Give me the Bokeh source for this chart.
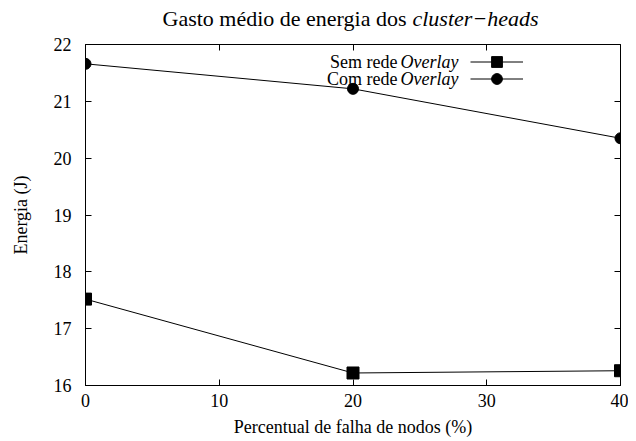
from bokeh.plotting import figure
from bokeh.layouts import column
from bokeh.models import (Range1d, LinearAxis, SingleIntervalTicker, Label,
                          Legend, LegendItem)
from bokeh.embed import file_html
from bokeh.resources import INLINE

# ---- data ----
falha = [0, 20, 40]
sem_overlay = [17.52, 16.22, 16.26]
com_overlay = [21.66, 21.22, 20.35]
x_ticks_interval = 10
y_ticks_interval = 1
titulo_normal = "Gasto médio de energia dos"
titulo_italico = "cluster\u2212heads"
serie_nomes = ["Sem rede", "Com rede"]
serie_italico = "Overlay"

FONT = "Liberation Serif"
W = 628
TITLE_H = 33

# ---- title strip ----
t = figure(width=W, height=TITLE_H, output_backend="svg", toolbar_location=None,
           x_range=Range1d(0, 1), y_range=Range1d(0, 1),
           x_axis_type=None, y_axis_type=None, min_border=0)
t.frame_align = False
t.grid.visible = False
t.outline_line_color = None
t.add_layout(Label(x=162, y=TITLE_H - 17.5, x_units="screen", y_units="screen",
                   text=titulo_normal, text_align="left",
                   text_baseline="middle", text_font=FONT,
                   text_font_size="22px", text_color="black"))
t.add_layout(Label(x=538, y=TITLE_H - 17.5, x_units="screen", y_units="screen",
                   text=titulo_italico, text_align="right",
                   text_baseline="middle", text_font=FONT,
                   text_font_size="22px", text_font_style="italic",
                   text_color="black"))

# ---- main plot ----
p = figure(width=W, height=406, output_backend="svg", toolbar_location=None,
           x_range=Range1d(0, 40), y_range=Range1d(16, 22),
           min_border_left=85, min_border_right=8, min_border_top=11,
           min_border_bottom=54, x_axis_label="Percentual de falha de nodos (%)",
           y_axis_label="Energia (J)")
p.frame_align = False
p.grid.visible = False
p.outline_line_color = "black"
p.outline_line_width = 1

for ax in (p.xaxis[0], p.yaxis[0]):
    ax.major_tick_in = 6
    ax.major_tick_out = 0
    ax.minor_tick_line_color = None
    ax.axis_line_color = "black"
    ax.major_label_text_font = FONT
    ax.major_label_text_font_size = "18px"
    ax.major_label_text_color = "black"
    ax.axis_label_text_font = FONT
    ax.axis_label_text_font_size = "18px"
    ax.axis_label_text_font_style = "normal"
    ax.axis_label_text_color = "black"
p.xaxis[0].ticker = SingleIntervalTicker(interval=x_ticks_interval)
p.yaxis[0].ticker = SingleIntervalTicker(interval=y_ticks_interval)
p.xaxis[0].major_label_standoff = 4
p.xaxis[0].axis_label_standoff = 7
p.yaxis[0].major_label_standoff = 10
p.yaxis[0].axis_label_standoff = 20

# mirror ticks (right / top)
rax = LinearAxis(ticker=SingleIntervalTicker(interval=y_ticks_interval))
tax = LinearAxis(ticker=SingleIntervalTicker(interval=x_ticks_interval))
for ax in (rax, tax):
    ax.major_tick_in = 6
    ax.major_tick_out = 0
    ax.minor_tick_line_color = None
    ax.axis_line_color = None
    ax.major_label_text_color = None
    ax.major_label_text_font_size = "1px"
    ax.major_label_standoff = 0
p.add_layout(rax, "right")
p.add_layout(tax, "above")

# series
l1 = p.line(falha, sem_overlay, line_color="black", line_width=1)
s1 = p.scatter(falha, sem_overlay, marker="square", size=12, color="black")
l2 = p.line(falha, com_overlay, line_color="black", line_width=1)
s2 = p.scatter(falha, com_overlay, marker="circle", size=11, color="black")

def leg(renderers, y):
    p.add_layout(Legend(items=[LegendItem(label=" ", renderers=renderers)],
                        location=(385, y), glyph_width=53, glyph_height=27,
                        label_width=0, label_standoff=0,
                        label_text_font_size="1px", padding=0, margin=0,
                        spacing=0, border_line_color=None,
                        background_fill_alpha=0), "center")

leg([l1, s1], 310)
leg([l2, s2], 293)

def lab(text, x, y, align, style="normal"):
    p.add_layout(Label(x=x, y=y, x_units="screen", y_units="screen", text=text,
                       text_align=align, text_baseline="middle",
                       text_font=FONT, text_font_size="18px",
                       text_font_style=style, text_color="black"))

# legend texts (right-aligned, to the left of the samples)
lab(serie_nomes[0], 312, 324, "right")
lab(serie_italico, 373, 324, "right", "italic")
lab(serie_nomes[1], 312, 307, "right")
lab(serie_italico, 373, 307, "right", "italic")

layout = column(t, p, spacing=0)
open("out.html", "w").write(file_html(layout, INLINE))
